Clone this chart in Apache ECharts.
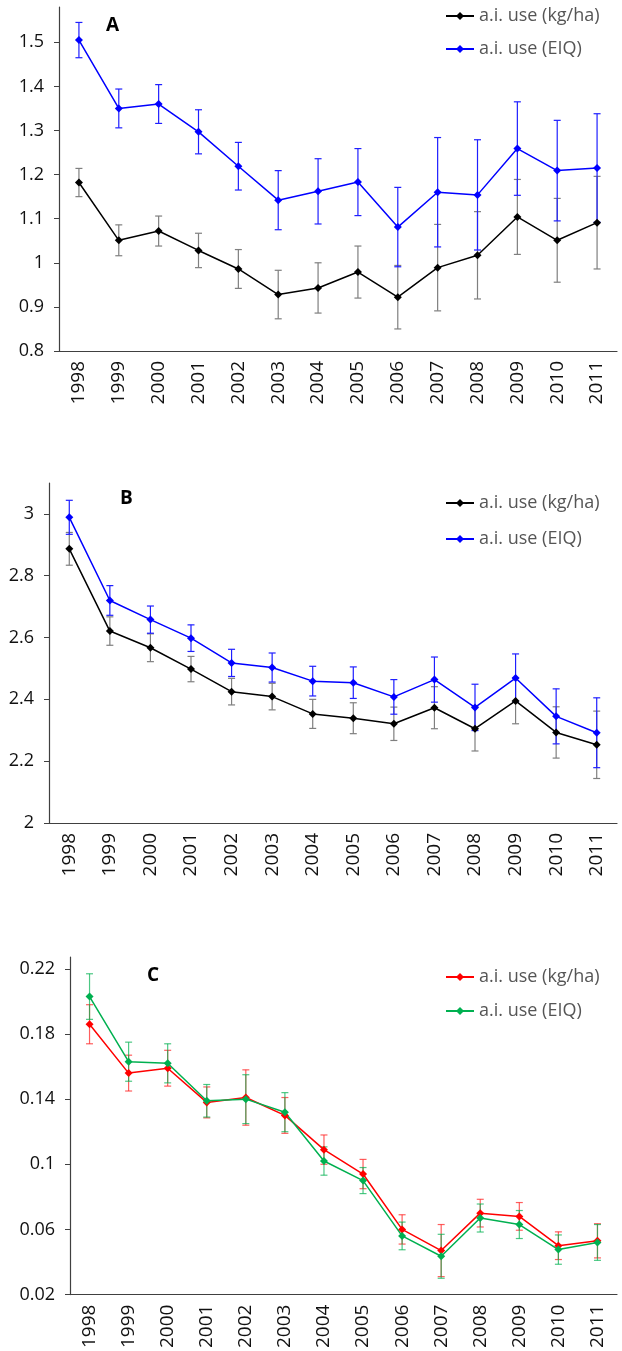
<!DOCTYPE html>
<html lang="en">
<head>
    <meta charset="UTF-8">
    <title>a.i. use 1998-2011</title>
</head>
<style>
    html, body{
        margin: 0;
        padding: 0;
        background-color: #fff;
    }
    .main{
        width: 622px;
        height: 1351px;
    }
</style>
<body>
<div id="main" class="main"></div>
<script src="https://cdn.jsdelivr.net/npm/echarts@6/dist/echarts.min.js"></script>
<script>
    var years = ['1998','1999','2000','2001','2002','2003','2004','2005','2006','2007','2008','2009','2010','2011'];

    // panel A
    var kgA = [1.182,1.051,1.072,1.028,0.986,0.928,0.943,0.979,0.922,0.989,1.017,1.104,1.051,1.091];
    var kgErrA = [0.032,0.035,0.034,0.039,0.044,0.055,0.057,0.059,0.072,0.098,0.099,0.085,0.095,0.105];
    var eiqA = [1.505,1.350,1.360,1.297,1.219,1.142,1.162,1.183,1.081,1.160,1.154,1.259,1.209,1.215];
    var eiqErrA = [0.040,0.044,0.044,0.050,0.054,0.067,0.074,0.076,0.090,0.124,0.125,0.106,0.114,0.123];
    var ticksA = [0.8,0.9,1,1.1,1.2,1.3,1.4,1.5];

    // panel B
    var kgB = [2.887,2.621,2.567,2.498,2.425,2.409,2.353,2.339,2.321,2.373,2.305,2.395,2.293,2.253];
    var kgErrB = [0.053,0.046,0.045,0.041,0.043,0.043,0.047,0.050,0.054,0.068,0.072,0.074,0.083,0.109];
    var eiqB = [2.989,2.720,2.658,2.598,2.518,2.503,2.459,2.454,2.408,2.464,2.374,2.469,2.345,2.292];
    var eiqErrB = [0.055,0.048,0.044,0.043,0.044,0.047,0.048,0.051,0.056,0.073,0.075,0.078,0.089,0.113];
    var ticksB = [2,2.2,2.4,2.6,2.8,3];

    // panel C
    var kgC = [0.186,0.156,0.159,0.138,0.141,0.130,0.109,0.094,0.060,0.047,0.070,0.068,0.050,0.053];
    var kgErrC = [0.012,0.011,0.011,0.0095,0.017,0.011,0.009,0.009,0.009,0.016,0.0085,0.0085,0.0085,0.0105];
    var eiqC = [0.203,0.163,0.162,0.139,0.140,0.132,0.102,0.090,0.056,0.0435,0.067,0.063,0.0476,0.052];
    var eiqErrC = [0.014,0.012,0.012,0.010,0.015,0.012,0.0087,0.008,0.0085,0.0135,0.0086,0.0086,0.009,0.011];
    var ticksC = [0.02,0.06,0.1,0.14,0.18,0.22];

    var labelFont = 'Open Sans';
    var axisColor = '#404040';

    function errData(vals, errs) {
        var out = [];
        for (var i = 0; i < vals.length; i++) {
            out.push([i, vals[i] - errs[i], vals[i] + errs[i]]);
        }
        return out;
    }

    function errSeries(idx, vals, errs, color) {
        return {
            type: 'custom',
            xAxisIndex: idx,
            yAxisIndex: idx,
            z: 1,
            silent: true,
            data: errData(vals, errs),
            encode: {x: 0, y: [1, 2]},
            renderItem: function (params, api) {
                var x = api.value(0);
                var lo = api.coord([x, api.value(1)]);
                var hi = api.coord([x, api.value(2)]);
                var w = 3.5;
                var st = {stroke: color, lineWidth: 1.2};
                return {
                    type: 'group',
                    children: [
                        {type: 'line', shape: {x1: hi[0], y1: hi[1], x2: lo[0], y2: lo[1]}, style: st},
                        {type: 'line', shape: {x1: hi[0] - w, y1: hi[1], x2: hi[0] + w, y2: hi[1]}, style: st},
                        {type: 'line', shape: {x1: lo[0] - w, y1: lo[1], x2: lo[0] + w, y2: lo[1]}, style: st}
                    ]
                };
            }
        };
    }

    function lineSeries(idx, name, vals, color) {
        return {
            type: 'line',
            name: name,
            xAxisIndex: idx,
            yAxisIndex: idx,
            z: 3,
            data: vals,
            symbol: 'diamond',
            symbolSize: 8,
            showAllSymbol: true,
            itemStyle: {color: color},
            lineStyle: {color: color, width: 1.5}
        };
    }

    function xAxis(idx) {
        return {
            type: 'category',
            gridIndex: idx,
            data: years,
            boundaryGap: true,
            axisLine: {lineStyle: {color: axisColor, width: 1.2}},
            axisTick: {length: 5, interval: 0, lineStyle: {color: axisColor}},
            axisLabel: {
                interval: 0, rotate: 90, margin: 10,
                fontFamily: labelFont, fontSize: 19, color: '#111'
            },
            splitLine: {show: false}
        };
    }

    function yAxis(idx, min, max, ticks) {
        return {
            type: 'value',
            gridIndex: idx,
            min: min,
            max: max,
            axisLine: {show: true, lineStyle: {color: axisColor, width: 1.2}},
            axisTick: {show: true, length: 5, customValues: ticks, lineStyle: {color: axisColor}},
            axisLabel: {
                customValues: ticks, margin: 15,
                fontFamily: labelFont, fontSize: 18, color: '#111'
            },
            splitLine: {show: false}
        };
    }

    function legend(idx, top, gap, names) {
        return {
            orient: 'vertical',
            left: 445,
            top: top,
            itemGap: gap,
            itemWidth: 28,
            itemHeight: 10,
            itemStyle: {borderWidth: 0},
            padding: 0,
            selectedMode: false,
            data: names,
            textStyle: {fontFamily: labelFont, fontSize: 18, color: '#555', lineHeight: 20}
        };
    }

    function letter(text, left, top) {
        return {
            text: text,
            left: left,
            top: top,
            padding: 0,
            textStyle: {fontFamily: labelFont, fontSize: 19, fontWeight: 'bold', color: '#000'}
        };
    }

    var chart = echarts.init(document.getElementById('main'), null, {renderer: 'canvas'});

    var option = {
        backgroundColor: '#fff',
        animation: false,
        title: [letter('A', 106, 16), letter('B', 120, 489), letter('C', 147, 966)],
        legend: [
            legend(0, 6, 13, ['a.i. use (kg/ha) ', 'a.i. use (EIQ) ']),
            legend(1, 493, 16, ['a.i. use (kg/ha)  ', 'a.i. use (EIQ)  ']),
            legend(2, 967, 14, ['a.i. use (kg/ha)', 'a.i. use (EIQ)'])
        ],
        grid: [
            {left: 59, right: 5, top: 7, height: 344},
            {left: 49, right: 5, top: 483, height: 340},
            {left: 70, right: 5, top: 957, height: 341}
        ],
        xAxis: [xAxis(0), xAxis(1), xAxis(2)],
        yAxis: [
            yAxis(0, 0.8, 1.58, ticksA),
            yAxis(1, 2, 3.1, ticksB),
            yAxis(2, 0.02, 0.2273, ticksC)
        ],
        series: [
            errSeries(0, kgA, kgErrA, '#7f7f7f'),
            errSeries(0, eiqA, eiqErrA, '#1f1fff'),
            lineSeries(0, 'a.i. use (kg/ha) ', kgA, '#000000'),
            lineSeries(0, 'a.i. use (EIQ) ', eiqA, '#0000ff'),

            errSeries(1, kgB, kgErrB, '#7f7f7f'),
            errSeries(1, eiqB, eiqErrB, '#1f1fff'),
            lineSeries(1, 'a.i. use (kg/ha)  ', kgB, '#000000'),
            lineSeries(1, 'a.i. use (EIQ)  ', eiqB, '#0000ff'),

            errSeries(2, kgC, kgErrC, 'rgba(255,40,40,0.75)'),
            errSeries(2, eiqC, eiqErrC, 'rgba(0,176,80,0.7)'),
            lineSeries(2, 'a.i. use (kg/ha)', kgC, '#ff0000'),
            lineSeries(2, 'a.i. use (EIQ)', eiqC, '#00b050')
        ]
    };

    chart.setOption(option);
</script>
</body>
</html>
